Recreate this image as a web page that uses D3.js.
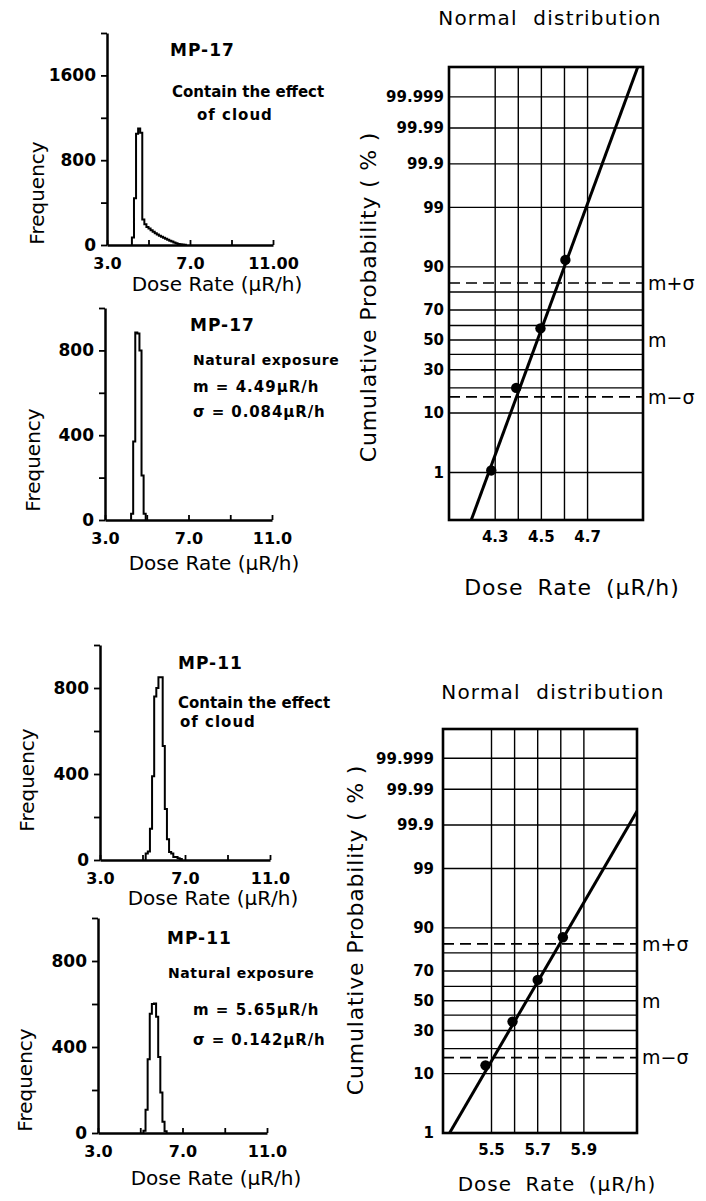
<!DOCTYPE html>
<html>
<head>
<meta charset="utf-8">
<script src="https://cdn.jsdelivr.net/npm/d3@7"></script>
<style>
body { margin: 0; background: #fff; }
svg { display: block; font-family: "DejaVu Sans", sans-serif; }
</style>
</head>
<body>
<div id="chart"></div>
<script>
// histogram bins: [bin start (uR/h), frequency], bins are 0.1 wide
var mp17CloudBins = [[4.2,70],[4.3,440],[4.4,1050],[4.5,1100],[4.6,1060],[4.7,240],[4.8,195],[4.9,170],
	[5.0,155],[5.1,140],[5.2,125],[5.3,112],[5.4,100],[5.5,88],[5.6,78],[5.7,68],[5.8,58],[5.9,50],
	[6.0,40],[6.1,32],[6.2,24],[6.3,16],[6.4,10],[6.5,6],[6.6,4],[6.7,3]];
var mp17NaturalBins = [[4.25,30],[4.35,370],[4.45,885],[4.55,880],[4.65,800],[4.75,210],[4.85,30]];
var mp11CloudBins = [[5.15,30],[5.25,40],[5.35,145],[5.45,390],[5.55,760],[5.65,800],[5.75,850],[5.85,850],
	[5.95,530],[6.05,237],[6.15,97],[6.25,37],[6.35,30],[6.45,14],[6.55,14],[6.65,8],[6.75,5]];
var mp11NaturalBins = [[5.15,10],[5.25,108],[5.35,343],[5.45,555],[5.55,600],[5.65,602],[5.75,541],
	[5.85,353],[5.95,188],[6.05,52],[6.15,8]];
var binWidth = 0.1;

var doseTicks = [3,5,7,9,11];
var doseLabelsA = {3:'3.0', 7:'7.0', 11:'11.00'};
var doseLabelsB = {3:'3.0', 7:'7.0', 11:'11.0'};
var freqTicksA = [0,400,800,1200,1600,2000];
var freqLabelsA = [0,800,1600];
var freqTicksB = [0,200,400,600,800,1000];
var freqLabelsB = [0,400,800];

// normal probability paper
var probGrid = [1,10,20,30,40,50,60,70,80,90,99,99.9,99.99,99.999];
var probLabels = [1,10,30,50,70,90,99,99.9,99.99,99.999];
var mp17Points = [[4.283,1.1],[4.391,20],[4.496,58],[4.604,92]];
var mp11Points = [[5.474,12.8],[5.591,35.7],[5.700,64.3],[5.809,86.8]];
var mp17Fit = {mean: 4.483, sigma: 0.0907};
var mp11Fit = {mean: 5.652, sigma: 0.1434};
var mp17DoseGrid = [4.3,4.4,4.5,4.6,4.7];
var mp17DoseLabels = [4.3,4.5,4.7];
var mp11DoseGrid = [5.5,5.6,5.7,5.8,5.9];
var mp11DoseLabels = [5.5,5.7,5.9];
var sigmaMarks = [{z:1, label:'m+σ'},{z:0, label:'m'},{z:-1, label:'m−σ'}];

var svg = d3.select('#chart').append('svg')
	.attr('width',706).attr('height',1201);

// inverse normal cdf (Acklam), used for the probability axis
function probit(p) {
	var a = [-3.969683028665376e+01,2.209460984245205e+02,-2.759285104469687e+02,1.383577518672690e+02,-3.066479806614716e+01,2.506628277459239e+00];
	var b = [-5.447609879822406e+01,1.615858368580409e+02,-1.556989798598866e+02,6.680131188771972e+01,-1.328068155288572e+01];
	var c = [-7.784894002430293e-03,-3.223964580411365e-01,-2.400758277161838e+00,-2.549671324738283e+00,4.374664141464968e+00,2.938163982698783e+00];
	var d = [7.784695709041462e-03,3.224671290700398e-01,2.445134137142996e+00,3.754408661907416e+00];
	var q, r;
	if(p < 0.02425) {
		q = Math.sqrt(-2*Math.log(p));
		return (((((c[0]*q+c[1])*q+c[2])*q+c[3])*q+c[4])*q+c[5])/((((d[0]*q+d[1])*q+d[2])*q+d[3])*q+1);
	}
	if(p > 1-0.02425) {
		q = Math.sqrt(-2*Math.log(1-p));
		return -(((((c[0]*q+c[1])*q+c[2])*q+c[3])*q+c[4])*q+c[5])/((((d[0]*q+d[1])*q+d[2])*q+d[3])*q+1);
	}
	q = p-0.5; r = q*q;
	return (((((a[0]*r+a[1])*r+a[2])*r+a[3])*r+a[4])*r+a[5])*q/(((((b[0]*r+b[1])*r+b[2])*r+b[3])*r+b[4])*r+1);
}

function addText(g, x, y, str, size, weight, anchor) {
	return g.append('text')
		.attr('x',x).attr('y',y).attr('dy','0.36em')
		.attr('font-size',size).attr('font-weight',weight || 'normal')
		.attr('text-anchor',anchor || 'start')
		.text(str);
}

function styleAxis(sel, size) {
	sel.attr('font-family',null).attr('font-size',null);
	sel.select('.domain').attr('stroke-width',2.5);
	sel.selectAll('.tick line').attr('stroke-width',1.8);
	sel.selectAll('.tick text').attr('font-size',size).attr('font-weight','bold').attr('fill','#000');
}

function histPanel(cfg) {
	var g = svg.append('g');
	var x = d3.scaleLinear().domain([3,11]).range([cfg.left,cfg.right]);
	var y = d3.scaleLinear().domain([0,cfg.ymax]).range([cfg.bottom,cfg.top]);

	var yAxis = d3.axisLeft(y).tickValues(cfg.yTicks)
		.tickFormat(function(d) { return cfg.yLabels.indexOf(d) >= 0 ? d : ''; })
		.tickSize(6).tickSizeOuter(0).tickPadding(5);
	g.append('g').attr('transform','translate('+cfg.left+',0)').call(yAxis).call(styleAxis,17);

	var xAxis = d3.axisBottom(x).tickValues(doseTicks)
		.tickFormat(function(d) { return cfg.xLabels[d] || ''; })
		.tickSize(-5).tickSizeOuter(0).tickPadding(13);
	g.append('g').attr('transform','translate(0,'+cfg.bottom+')').call(xAxis).call(styleAxis,16);

	var bins = cfg.bins;
	var last = bins[bins.length-1];
	var pts = [[bins[0][0],0]].concat(bins).concat([[last[0]+binWidth,0]]);
	var line = d3.line()
		.x(function(d) { return x(d[0]); })
		.y(function(d) { return y(d[1]); })
		.curve(d3.curveStepAfter);
	g.append('path').datum(pts)
		.attr('d',line)
		.attr('fill','none').attr('stroke','#000').attr('stroke-width',2);

	g.append('text')
		.attr('transform','translate('+cfg.ytitle[0]+','+cfg.ytitle[1]+') rotate(-90)')
		.attr('dy','0.36em').attr('text-anchor','middle').attr('font-size',20)
		.text('Frequency');
	addText(g, cfg.xtitle[0], cfg.xtitle[1], 'Dose Rate (μR/h)', 20, 'normal', 'middle');
	addText(g, cfg.name[0], cfg.name[1], cfg.name[2], 17, 'bold').attr('letter-spacing',1);
	cfg.notes.forEach(function(n) {
		addText(g, n[0], n[1], n[2], n[3], 'bold').attr('letter-spacing',n[4] || 0);
	});
}

function probPanel(cfg) {
	var g = svg.append('g');
	var x = d3.scaleLinear().domain(cfg.xDomain).range([cfg.left,cfg.right]);
	var y = d3.scaleLinear().domain(cfg.zDomain).range([cfg.bottom,cfg.top]);
	var yp = function(p) { return y(probit(p/100)); };

	var clipId = 'clip'+cfg.id;
	g.append('clipPath').attr('id',clipId).append('rect')
		.attr('x',cfg.left).attr('y',cfg.top)
		.attr('width',cfg.right-cfg.left).attr('height',cfg.bottom-cfg.top);

	g.selectAll('line.hgrid').data(probGrid).enter().append('line')
		.attr('class','hgrid')
		.attr('x1',cfg.left).attr('x2',cfg.right)
		.attr('y1',yp).attr('y2',yp)
		.attr('stroke','#000').attr('stroke-width',1.4);
	g.selectAll('line.vgrid').data(cfg.doseGrid).enter().append('line')
		.attr('class','vgrid')
		.attr('x1',x).attr('x2',x)
		.attr('y1',cfg.top).attr('y2',cfg.bottom)
		.attr('stroke','#000').attr('stroke-width',1.4);

	// m +/- sigma
	g.selectAll('line.sig').data(sigmaMarks.filter(function(s) { return s.z !== 0; })).enter().append('line')
		.attr('class','sig')
		.attr('x1',cfg.left).attr('x2',cfg.right)
		.attr('y1',function(s) { return y(s.z); }).attr('y2',function(s) { return y(s.z); })
		.attr('stroke','#000').attr('stroke-width',1.6).attr('stroke-dasharray','11,6');
	g.selectAll('text.sig').data(sigmaMarks).enter().append('text')
		.attr('class','sig')
		.attr('x',cfg.right+5).attr('y',function(s) { return y(s.z); })
		.attr('dy','0.36em').attr('font-size',19)
		.text(function(s) { return s.label; });

	g.append('rect')
		.attr('x',cfg.left).attr('y',cfg.top)
		.attr('width',cfg.right-cfg.left).attr('height',cfg.bottom-cfg.top)
		.attr('fill','none').attr('stroke','#000').attr('stroke-width',2.6);

	// fitted line
	var fit = cfg.fit;
	var fitPts = cfg.zDomain.map(function(z) { return [fit.mean+z*fit.sigma, z]; });
	g.append('path').datum(fitPts)
		.attr('clip-path','url(#'+clipId+')')
		.attr('d',d3.line().x(function(d) { return x(d[0]); }).y(function(d) { return y(d[1]); }))
		.attr('fill','none').attr('stroke','#000').attr('stroke-width',3);

	g.selectAll('circle').data(cfg.points).enter().append('circle')
		.attr('cx',function(d) { return x(d[0]); })
		.attr('cy',function(d) { return yp(d[1]); })
		.attr('r',5.2).attr('fill','#000');

	g.selectAll('text.plab').data(probLabels).enter().append('text')
		.attr('class','plab')
		.attr('x',cfg.left-cfg.labelGap).attr('y',yp)
		.attr('dy','0.36em').attr('text-anchor','end')
		.attr('font-size',15).attr('font-weight','bold')
		.text(function(d) { return String(d); });
	g.selectAll('text.dlab').data(cfg.doseLabels).enter().append('text')
		.attr('class','dlab')
		.attr('x',x).attr('y',cfg.bottom+cfg.tickGap)
		.attr('dy','0.36em').attr('text-anchor','middle')
		.attr('font-size',15).attr('font-weight','bold')
		.text(function(d) { return d.toFixed(1); });

	addText(g, cfg.title[0], cfg.title[1], 'Normal distribution', 20, 'normal', 'middle')
		.attr('letter-spacing',1.2).attr('word-spacing',8);
	addText(g, cfg.xtitle[0], cfg.xtitle[1], 'Dose Rate (μR/h)', cfg.xtitleSize, 'normal', 'middle')
		.attr('letter-spacing',1).attr('word-spacing',6);
	g.append('text')
		.attr('transform','translate('+cfg.ytitle[0]+','+cfg.ytitle[1]+') rotate(-90)')
		.attr('dy','0.36em').attr('text-anchor','middle').attr('font-size',22)
		.attr('letter-spacing',0.8)
		.text('Cumulative Probability ( % )');
}

histPanel({
	left:107, right:273, top:33, bottom:245, ymax:2000,
	yTicks:freqTicksA, yLabels:freqLabelsA, xLabels:doseLabelsA, bins:mp17CloudBins,
	ytitle:[37,193], xtitle:[217,284], name:[170,50,'MP-17'],
	notes:[[172,92,'Contain the effect',15],[197,115,'of cloud',15,1]]
});
histPanel({
	left:105, right:272, top:308, bottom:520, ymax:1000,
	yTicks:freqTicksB, yLabels:freqLabelsB, xLabels:doseLabelsB, bins:mp17NaturalBins,
	ytitle:[33,460], xtitle:[214,563], name:[190,325,'MP-17'],
	notes:[[193,360,'Natural exposure',14,0.6],[193,387,'m = 4.49μR/h',15,1],[193,412,'σ = 0.084μR/h',15,0.9]]
});
histPanel({
	left:100, right:270, top:645, bottom:860, ymax:1000,
	yTicks:freqTicksB, yLabels:freqLabelsB, xLabels:doseLabelsB, bins:mp11CloudBins,
	ytitle:[27,780], xtitle:[213,898], name:[178,663,'MP-11'],
	notes:[[178,703,'Contain the effect',15],[180,722,'of cloud',15,1]]
});
histPanel({
	left:98, right:267, top:918, bottom:1133, ymax:1000,
	yTicks:freqTicksB, yLabels:freqLabelsB, xLabels:doseLabelsB, bins:mp11NaturalBins,
	ytitle:[25,1080], xtitle:[216,1178], name:[167,938,'MP-11'],
	notes:[[168,973,'Natural exposure',14,0.6],[193,1010,'m = 5.65μR/h',15,1],[193,1040,'σ = 0.142μR/h',15,0.9]]
});

probPanel({
	id:1, left:449, right:643, top:67, bottom:520,
	xDomain:[4.1,4.94], zDomain:[-3.16,4.79],
	doseGrid:mp17DoseGrid, doseLabels:mp17DoseLabels, points:mp17Points, fit:mp17Fit,
	labelGap:5, tickGap:17, xtitleSize:22,
	title:[550,18], xtitle:[572,587], ytitle:[368,297]
});
probPanel({
	id:2, left:443, right:637, top:729, bottom:1133,
	xDomain:[5.29,6.13], zDomain:[-2.326,4.78],
	doseGrid:mp11DoseGrid, doseLabels:mp11DoseLabels, points:mp11Points, fit:mp11Fit,
	labelGap:9, tickGap:17, xtitleSize:20,
	title:[553,692], xtitle:[557,1184], ytitle:[355,930]
});
</script>
</body>
</html>
